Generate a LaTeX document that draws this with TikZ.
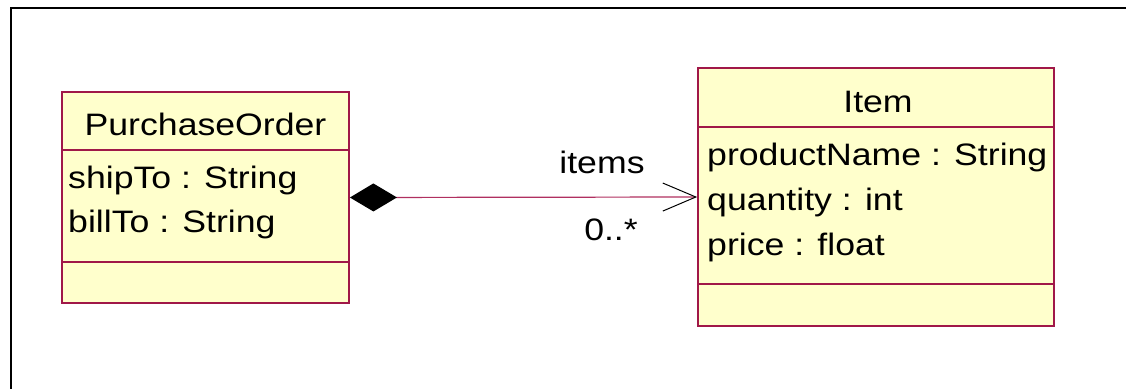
\documentclass[tikz,border=0pt]{standalone}
\usepackage{fontspec}
\setmainfont{Liberation Sans}[FakeStretch=1.15]
\usetikzlibrary{arrows.meta}
\definecolor{umlborder}{HTML}{A01848}
\definecolor{umlfill}{HTML}{FFFFCC}
\definecolor{umlline}{HTML}{B03060}
\tikzset{
  classbox/.style={draw=umlborder, fill=umlfill, line width=1.8pt, rectangle, inner sep=0pt},
  sepline/.style={draw=umlborder, line width=1.1pt},
  umltext/.style={font=\fontsize{31}{36}\selectfont, inner sep=0pt, text=black},
  frameline/.style={draw=black, line width=2pt},
  composition/.style={draw=umlline, line width=1.2pt,
    {Diamond[length=47pt,width=28pt,fill=black,color=black]}-{Straight Barb[length=33pt,width=28pt,line width=1pt,color=black]}}
}
\begin{document}
\begin{tikzpicture}[x=1pt,y=-1pt]
\useasboundingbox (0,0) rectangle (1126,388);
% diagram frame (top and left edges)
\draw[frameline] (11,400) -- (11,7.5) -- (1140,7.5);

% class PurchaseOrder
\node[classbox, minimum width=287pt, minimum height=211pt] (po) at (205.5,197.5) {};
\coordinate (poA) at (62,150);
\coordinate (poB) at (62,262);
\draw[sepline] (poA) -- (poA -| po.east);
\draw[sepline] (poB) -- (poB -| po.east);
\node[umltext, anchor=base] (poname) at (205.5,135) {PurchaseOrder};
\node[umltext, anchor=base west] (poship) at (68,188) {shipTo : String};
\node[umltext, anchor=base west] (pobill) at (68,232) {billTo : String};

% class Item
\node[classbox, minimum width=356pt, minimum height=258pt] (item) at (876,197) {};
\coordinate (itA) at (698,127);
\coordinate (itB) at (698,284);
\draw[sepline] (itA) -- (itA -| item.east);
\draw[sepline] (itB) -- (itB -| item.east);
\node[umltext, anchor=base] (itname) at (878,112) {Item};
\node[umltext, anchor=base west] (itprod) at (707,165) {productName : String};
\node[umltext, anchor=base west] (itqty) at (707,210) {quantity : int};
\node[umltext, anchor=base west] (itprice) at (707,255) {price : float};

% composition association
\draw[composition] (po.east) -- (item.west);
\node[umltext, anchor=base] (rolename) at (602,173) {items};
\node[umltext, anchor=base] (mult) at (611,240) {0..*};
\end{tikzpicture}
\end{document}
